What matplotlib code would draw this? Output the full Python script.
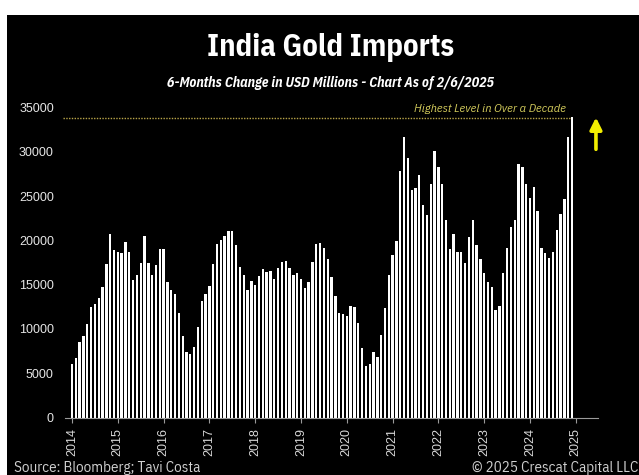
import numpy as np
import matplotlib
matplotlib.use("Agg")
import matplotlib.pyplot as plt
from matplotlib.patches import Rectangle

# monthly values, Jan 2014 .. Dec 2024 (USD millions, 6-month change)
y2014 = [6100, 6700, 8550, 9250, 10550, 12450, 12800, 13550, 14750, 17300, 20700, 18900]
y2015 = [18700, 18600, 19800, 18700, 15500, 16100, 17500, 20500, 17500, 16050, 17200, 19000]
y2016 = [19000, 15350, 14350, 13950, 11850, 9250, 7450, 7150, 7950, 10200, 13200, 13950]
y2017 = [14900, 17300, 19650, 20050, 20550, 21050, 21100, 19500, 17050, 16100, 14400, 15400]
y2018 = [14950, 16000, 16750, 16400, 16600, 15600, 16900, 17600, 17700, 16900, 16150, 16350]
y2019 = [15700, 14650, 15300, 17600, 19650, 19700, 19100, 17900, 15900, 13750, 11850, 11700]
y2020 = [11500, 12550, 12500, 10650, 7800, 5850, 6100, 7450, 6800, 9300, 12350, 16150]
y2021 = [18400, 19950, 27900, 31700, 29350, 25750, 25950, 27400, 24000, 22850, 26400, 30150]
y2022 = [28350, 26400, 22300, 19000, 20750, 18750, 18750, 17500, 20350, 22350, 19500, 17950]
y2023 = [16300, 15350, 14750, 12100, 12550, 16350, 19200, 21500, 22300, 28600, 28350, 26350]
y2024 = [24750, 26000, 23350, 19100, 18550, 18000, 18650, 21150, 22950, 24700, 31650, 33900]

values = np.array(y2014 + y2015 + y2016 + y2017 + y2018 + y2019 + y2020
                  + y2021 + y2022 + y2023 + y2024, dtype=float)
dates = 2014 + np.arange(len(values)) / 12.0
years = list(range(2014, 2026))

COND = ["IBM Plex Sans Condensed", "Barlow Semi Condensed", "DejaVu Sans"]

fig = plt.figure(figsize=(6.39, 4.75), dpi=100, facecolor="white")
# black panel (white strip at top and left like the screenshot)
fig.patches.append(Rectangle((7 / 639, 0), 1, 1 - 15 / 475, transform=fig.transFigure,
                             facecolor="black", edgecolor="none", zorder=-10))

ax = fig.add_axes([65 / 639, 1 - 417.5 / 475, 533 / 639, 309.8 / 475])
ax.set_facecolor("black")

ax.bar(dates, values, width=0.62 / 12, color="white", edgecolor="none", align="center")

ax.set_xlim(2014 - 7 / 45.8, 2014 + 526 / 45.8)
ax.set_ylim(0, 35000)

for s in ["top", "right", "left"]:
    ax.spines[s].set_visible(False)
ax.spines["bottom"].set_color("#9a9a9a")
ax.spines["bottom"].set_linewidth(0.8)

ax.set_xticks(years)
ax.set_xticklabels([str(y) for y in years], rotation=90, fontsize=9,
                   color="#d8d8d8", family="Liberation Sans")
ax.tick_params(axis="x", length=3.5, color="#9a9a9a", pad=4)
ax.set_yticks(range(0, 35001, 5000))
ax.set_yticklabels([str(v) for v in range(0, 35001, 5000)], fontsize=9,
                   color="#e6e6e6", family="Liberation Sans")
ax.tick_params(axis="y", length=0, pad=8)

# record level marker
peak = values.max()
ax.plot([2013.8, dates[-1] - 0.05], [peak - 100, peak - 100], linestyle=(0, (1, 1)),
        color="#b8a448", linewidth=1.0, clip_on=False)
ax.text(dates[-1] - 0.12, peak + 400, "Highest Level in Over a Decade", ha="right",
        va="bottom", fontsize=8.9, style="italic", color="#d4cc5c", family=COND)
ax.annotate("", xy=(2025.44, 33900), xytext=(2025.44, 30300),
            arrowprops=dict(arrowstyle="-|>,head_width=0.35,head_length=0.7",
                            color="#f2ee00", lw=2.6, shrinkA=0, shrinkB=0))

fig.text(331 / 639, 1 - 48 / 475, "India Gold Imports", ha="center", va="center",
         fontsize=22, fontweight="bold", color="white", family=COND)
fig.text(331 / 639, 1 - 83 / 475, "6-Months Change in USD Millions - Chart As of 2/6/2025",
         ha="center", va="center", fontsize=10, fontweight="bold", style="italic",
         color="white", family=COND)
fig.text(14 / 639, 1 - 468 / 475, "Source: Bloomberg; Tavi Costa", ha="left", va="center",
         fontsize=10.8, color="#d0d0d0", family=COND)
fig.text(638 / 639, 1 - 468 / 475, "\u00a9 2025 Crescat Capital LLC", ha="right", va="center",
         fontsize=10.8, color="#d0d0d0", family=COND)

fig.savefig("out.png", dpi=100, facecolor=fig.get_facecolor())
